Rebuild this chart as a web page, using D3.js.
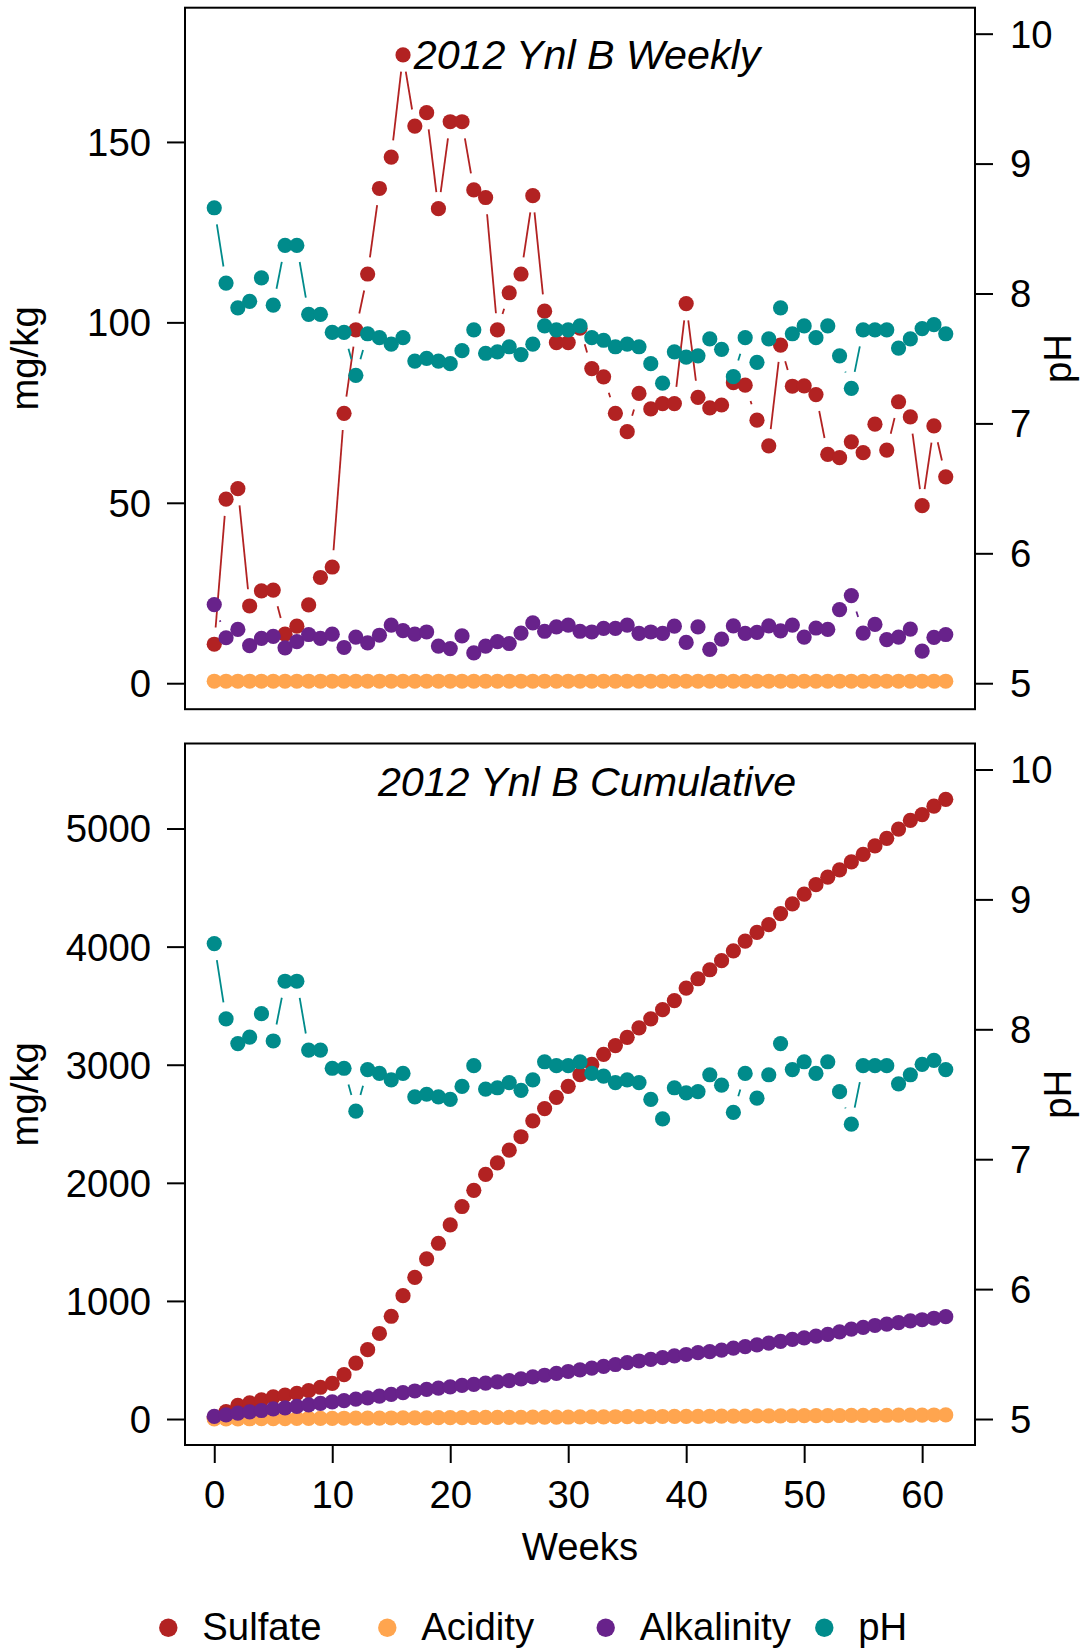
<!DOCTYPE html>
<html>
<head>
  <title>2012 Ynl B Weekly / Cumulative</title>
  <script src="https://d3js.org/d3.v7.min.js"></script>
  <style>
    body { margin: 0; background: #fff; }
    text { font-family: "Liberation Sans", Arial, Helvetica, sans-serif; }
  </style>
</head>
<body>
  <svg id="chart" width="1086" height="1650"></svg>

  <script>
    // Weekly values (week 0..62)
    var weeks = d3.range(0, 63);

    var sulfate = [10.8, 51.0, 53.9, 21.4, 25.6, 25.8, 13.6, 15.8, 21.7, 29.3, 32.2,
      74.8, 97.9, 113.4, 137.1, 145.8, 174.1, 154.4, 158.1, 131.5, 155.6,
      155.6, 136.7, 134.6, 97.9, 108.2, 113.4, 135.1, 103.1, 94.4, 94.4,
      98.4, 87.2, 84.9, 74.8, 69.7, 80.3, 76.0, 77.5, 77.5, 105.2,
      79.2, 76.3, 77.1, 83.3, 82.6, 72.9, 65.8, 93.7, 82.3, 82.4,
      80.0, 63.4, 62.5, 66.9, 63.9, 71.8, 64.6, 78.0, 73.8, 49.2, 71.3, 57.2];

    var acidity = [0.55, 0.55, 0.55, 0.55, 0.55, 0.55, 0.55, 0.55, 0.55, 0.55, 0.55,
      0.55, 0.55, 0.55, 0.55, 0.55, 0.55, 0.55, 0.55, 0.55, 0.55,
      0.55, 0.55, 0.55, 0.55, 0.55, 0.55, 0.55, 0.55, 0.55, 0.55,
      0.55, 0.55, 0.55, 0.55, 0.55, 0.55, 0.55, 0.55, 0.55, 0.55,
      0.55, 0.55, 0.55, 0.55, 0.55, 0.55, 0.55, 0.55, 0.55, 0.55,
      0.55, 0.55, 0.55, 0.55, 0.55, 0.55, 0.55, 0.55, 0.55, 0.55, 0.55, 0.55];

    var alkalinity = [21.8, 12.6, 14.9, 10.4, 12.4, 13.0, 9.8, 11.5, 13.5, 12.4, 13.6,
      9.9, 12.8, 11.2, 13.3, 16.1, 14.6, 13.6, 14.2, 10.3, 9.6,
      13.1, 8.4, 10.3, 11.5, 11.0, 13.9, 16.7, 14.4, 15.6, 16.1,
      14.4, 14.2, 15.2, 15.2, 16.1, 13.8, 14.2, 13.8, 15.8, 11.3,
      15.6, 9.4, 12.2, 15.9, 13.8, 14.1, 15.9, 14.5, 16.1, 12.8,
      15.3, 14.9, 20.4, 24.3, 13.9, 16.3, 12.1, 12.8, 15.0, 8.9, 12.7, 13.5];

    var pH = [8.66, 8.08, 7.89, 7.94, 8.12, 7.91, 8.37, 8.37, 7.84, 7.84, 7.70,
      7.70, 7.37, 7.69, 7.66, 7.61, 7.66, 7.48, 7.50, 7.48, 7.46,
      7.56, 7.72, 7.54, 7.55, 7.59, 7.53, 7.61, 7.75, 7.72, 7.72,
      7.75, 7.66, 7.64, 7.59, 7.61, 7.59, 7.46, 7.31, 7.55, 7.51,
      7.52, 7.65, 7.57, 7.36, 7.66, 7.47, 7.65, 7.89, 7.69, 7.75,
      7.66, 7.75, 7.52, 7.27, 7.72, 7.72, 7.72, 7.58, 7.65, 7.73, 7.76, 7.69];

    // Tick labels
    var xTicks = [0, 10, 20, 30, 40, 50, 60];
    var weeklyTicks = [0, 50, 100, 150];
    var cumTicks = [0, 1000, 2000, 3000, 4000, 5000];
    var pHTicks = [5, 6, 7, 8, 9, 10];

    var seriesNames = ["Sulfate", "Acidity", "Alkalinity", "pH"];
    var colors = { Sulfate: "#B22222", Acidity: "#FFA54F", Alkalinity: "#68228B", pH: "#008B8B" };

    // R style axis range: extend by 4% on each side
    function rpad(lo, hi) {
      var p = 0.04 * (hi - lo);
      return [lo - p, hi + p];
    }

    var left = 185, right = 975, plotH = 701.5;
    var fontSize = "38.3px";
    var svg = d3.select("#chart");
    var fmt = d3.format("d");

    var xScale = d3.scaleLinear().domain(rpad(0, 62)).range([left, right]);

    // Points with gaps around them, like R type = "b"
    function drawSeries(g, values, yScale, color) {
      var pts = Array.from(values, function(v, i) { return [xScale(weeks[i]), yScale(v)]; });
      var gap = 16.8;
      var segs = [];
      for (var i = 1; i < pts.length; i++) {
        var dx = pts[i][0] - pts[i - 1][0], dy = pts[i][1] - pts[i - 1][1];
        var d = Math.sqrt(dx * dx + dy * dy);
        if (d > 2 * gap) {
          var ux = dx / d, uy = dy / d;
          segs.push([pts[i - 1][0] + ux * gap, pts[i - 1][1] + uy * gap,
                     pts[i][0] - ux * gap, pts[i][1] - uy * gap]);
        }
      }
      g.selectAll(null).data(segs).enter().append("line")
        .attr("x1", function(s) { return s[0]; })
        .attr("y1", function(s) { return s[1]; })
        .attr("x2", function(s) { return s[2]; })
        .attr("y2", function(s) { return s[3]; })
        .attr("stroke", color)
        .attr("stroke-width", 1.8);
      g.selectAll(null).data(pts).enter().append("circle")
        .attr("cx", function(p) { return p[0]; })
        .attr("cy", function(p) { return p[1]; })
        .attr("r", 7.6)
        .attr("fill", color);
    }

    function drawPanel(top, ymax, yTicks, series, title, titleY, showX) {
      var bottom = top + plotH;
      var y = d3.scaleLinear().domain(rpad(0, ymax)).range([bottom, top]);
      var yPH = d3.scaleLinear().domain(rpad(5, 10)).range([bottom, top]);
      var g = svg.append("g");

      drawSeries(g, series[0], y, colors.Sulfate);
      drawSeries(g, series[1], y, colors.Acidity);
      drawSeries(g, series[2], y, colors.Alkalinity);
      drawSeries(g, series[3], yPH, colors.pH);

      // Box
      g.append("rect")
        .attr("x", left).attr("y", top)
        .attr("width", right - left).attr("height", plotH)
        .attr("fill", "none").attr("stroke", "#000").attr("stroke-width", 2);

      // Left axis
      var la = g.append("g").attr("transform", "translate(" + left + ",0)")
        .call(d3.axisLeft(y).tickValues(yTicks).tickFormat(fmt).tickSize(18).tickPadding(16));
      // Right axis (pH)
      var ra = g.append("g").attr("transform", "translate(" + right + ",0)")
        .call(d3.axisRight(yPH).tickValues(pHTicks).tickFormat(fmt).tickSize(18).tickPadding(17));
      [la, ra].forEach(function(a) {
        a.select(".domain").remove();
        a.selectAll("line").attr("stroke-width", 2);
        a.selectAll("text").attr("font-size", fontSize).attr("fill", "#000").attr("dy", "0.35em");
      });

      if (showX) {
        var xa = g.append("g").attr("transform", "translate(0," + bottom + ")")
          .call(d3.axisBottom(xScale).tickValues(xTicks).tickFormat(fmt).tickSize(18).tickPadding(18));
        xa.select(".domain").remove();
        xa.selectAll("line").attr("stroke-width", 2);
        xa.selectAll("text").attr("font-size", fontSize).attr("fill", "#000");
      }

      // Axis titles
      var mid = (top + bottom) / 2;
      g.append("text")
        .attr("transform", "translate(38," + mid + ") rotate(-90)")
        .attr("text-anchor", "middle").attr("font-size", fontSize)
        .text("mg/kg");
      g.append("text")
        .attr("transform", "translate(1071," + mid + ") rotate(-90)")
        .attr("text-anchor", "middle").attr("font-size", fontSize)
        .text("pH");

      // Panel title
      g.append("text")
        .attr("x", 587).attr("y", titleY)
        .attr("text-anchor", "middle")
        .attr("font-size", "41.2px").attr("font-style", "italic")
        .text(title);
    }

    drawPanel(7.7, 180, weeklyTicks, [sulfate, acidity, alkalinity, pH],
      "2012 Ynl B Weekly", 69, false);

    drawPanel(743.5, 5500, cumTicks,
      [Array.from(d3.cumsum(sulfate)), Array.from(d3.cumsum(acidity)),
       Array.from(d3.cumsum(alkalinity)), pH],
      "2012 Ynl B Cumulative", 796, true);

    // X axis title
    svg.append("text")
      .attr("x", 580).attr("y", 1560)
      .attr("text-anchor", "middle").attr("font-size", fontSize)
      .text("Weeks");

    // Legend
    var legendX = [168.3, 387.3, 605.7, 824.3];
    var legend = svg.append("g");
    legend.selectAll("circle").data(seriesNames).enter().append("circle")
      .attr("cx", function(d, i) { return legendX[i]; })
      .attr("cy", 1627.7)
      .attr("r", 9.2)
      .attr("fill", function(d) { return colors[d]; });
    legend.selectAll("text").data(seriesNames).enter().append("text")
      .attr("x", function(d, i) { return legendX[i] + 34; })
      .attr("y", 1640)
      .attr("font-size", fontSize)
      .text(function(d) { return d; });
  </script>
</body>
</html>
